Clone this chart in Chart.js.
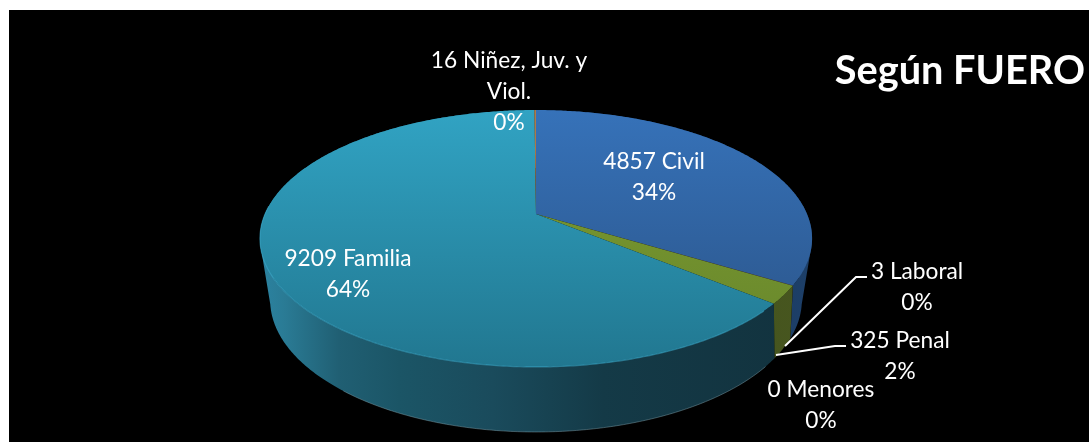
<!DOCTYPE html>
<html>
<head>
<meta charset="utf-8">
<title>Según FUERO</title>
<script src="https://cdn.jsdelivr.net/npm/chart.js@4"></script>
<style>
  html, body { margin: 0; padding: 0; background: #fff; }
  canvas { display: block; }
</style>
</head>
<body>
<canvas id="fueroChart" width="1089" height="442"></canvas>
<script>
// clockwise from 12 o'clock
const categories = ['Civil', 'Laboral', 'Penal', 'Menores', 'Familia', 'Niñez, Juv. y Viol.'];
const values = [4857, 3, 325, 0, 9209, 16];
const titleText = 'Según FUERO';

const topColors = [['#3672b9', '#2a5285'], ['#7a5a9c', '#7a5a9c'], ['#7f9c30', '#66862c'], ['#888', '#888'], ['#31a3c3', '#217790'], ['#b07a45', '#a0703f']];
const wallStops = [
  [[0, '#12263f'], [1, '#1d3f68']],
  [[0, '#3a2c4c'], [1, '#3a2c4c']],
  [[0, '#3d4a1a'], [1, '#47561f']],
  [[0, '#444'], [1, '#444']],
  [[0, '#2b82a0'], [0.04, '#2a7b95'], [0.14, '#205f73'], [0.25, '#1b5566'], [0.42, '#1a4b5c'], [0.62, '#143a47'], [1, '#12323e']],
  [[0, '#5a3d22'], [1, '#5a3d22']],
];

// text lines and where they sit, in the order of the categories
const labelLines = [
  ['4857 Civil', '34%'],
  ['3 Laboral', '0%'],
  ['325 Penal', '2%'],
  ['0 Menores', '0%'],
  ['9209 Familia', '64%'],
  ['16 Niñez, Juv. y', 'Viol.', '0%'],
];
const labelAnchors = [[654, 162], [917, 272], [900, 341], [821, 390], [348, 259], [509, 61]];
const leaders = [
  [[785, 346], [856, 277], [867, 277]],
  [[776, 355], [835, 346], [846, 346]],
];

const PANEL = { x: 9, y: 10 };
const APEX_X = 536;
// the disc is seen in perspective, so its centre is not the middle of the ellipse
const TOP_DISC = { k: 271, a: 123.8, c: -0.1907, y: 214 };
const BOTTOM_DISC = { k: 256, a: 122.4, c: -0.27, y: 264.3 };
const FRONT_LEFT = 262;
const FRONT_RIGHT = 812;

function project(disc, angle) {
  const den = 1 + disc.c * Math.sin(angle);
  return {
    x: APEX_X + disc.k * Math.cos(angle) / den,
    y: disc.y + disc.a * Math.sin(angle) / den,
  };
}

function arcSteps(start, end) {
  const steps = Math.max(2, Math.ceil((end - start) / 0.01));
  const out = [];
  for (let i = 0; i <= steps; i++) out.push(start + (end - start) * i / steps);
  return out;
}

function wallGradient(ctx, index) {
  const g = ctx.createLinearGradient(FRONT_LEFT, 0, FRONT_RIGHT, 0);
  wallStops[index].forEach(([pos, color]) => g.addColorStop(pos, color));
  return g;
}

function signedArea(pts) {
  let sum = 0;
  pts.forEach((p, i) => {
    const q = pts[(i + 1) % pts.length];
    sum += p.x * q.y - q.x * p.y;
  });
  return sum;
}

function drawWall(ctx, arc, index) {
  ctx.fillStyle = wallGradient(ctx, index);
  const angles = arcSteps(arc.startAngle, arc.endAngle);
  // all quads in one path, so no seams show between them
  ctx.beginPath();
  for (let i = 0; i < angles.length - 1; i++) {
    const quad = [
      project(TOP_DISC, angles[i]),
      project(TOP_DISC, angles[i + 1]),
      project(BOTTOM_DISC, angles[i + 1]),
      project(BOTTOM_DISC, angles[i]),
    ];
    // same winding everywhere or overlapping quads cancel out
    if (signedArea(quad) < 0) quad.reverse();
    quad.forEach((p, n) => (n === 0 ? ctx.moveTo(p.x, p.y) : ctx.lineTo(p.x, p.y)));
    ctx.closePath();
  }
  ctx.fill();
}

function drawFace(ctx, arc, index) {
  const g = ctx.createLinearGradient(0, 110, 0, 367);
  g.addColorStop(0, topColors[index][0]);
  g.addColorStop(1, topColors[index][1]);
  ctx.fillStyle = g;
  ctx.beginPath();
  ctx.moveTo(APEX_X, TOP_DISC.y);
  arcSteps(arc.startAngle, arc.endAngle).forEach((angle) => {
    const p = project(TOP_DISC, angle);
    ctx.lineTo(p.x, p.y);
  });
  ctx.closePath();
  ctx.fill();
}

function strokeArc(ctx, disc, start, end, color, width) {
  ctx.strokeStyle = color;
  ctx.lineWidth = width;
  ctx.beginPath();
  arcSteps(start, end).forEach((angle, i) => {
    const p = project(disc, angle);
    if (i === 0) ctx.moveTo(p.x, p.y);
    else ctx.lineTo(p.x, p.y);
  });
  ctx.stroke();
}

const pie3d = {
  id: 'pie3d',
  beforeDraw(chart) {
    const { ctx, width, height } = chart;
    ctx.save();
    ctx.fillStyle = '#000';
    ctx.fillRect(PANEL.x, PANEL.y, width - PANEL.x, height - PANEL.y);
    ctx.restore();
  },
  // the library works out each slice's angles; they are drawn here tilted instead of flat
  beforeDatasetsDraw(chart) {
    const { ctx } = chart;
    const arcs = chart.getDatasetMeta(0).data;
    ctx.save();
    const order = arcs.map((arc, i) => i).filter((i) => values[i] > 0);
    order.forEach((i) => drawWall(ctx, arcs[i], i));
    order.forEach((i) => drawFace(ctx, arcs[i], i));
    // lighter edges on the big slice, top face and foot of the wall
    const family = arcs[categories.indexOf('Familia')];
    strokeArc(ctx, TOP_DISC, Math.max(family.startAngle, 0.75), Math.PI * 1.02, 'rgba(64, 176, 210, 0.5)', 1.2);
    strokeArc(ctx, BOTTOM_DISC, Math.max(family.startAngle, 0.75), 2.2, 'rgba(130, 165, 175, 0.45)', 1);
    ctx.restore();
    return false;
  },
  afterDraw(chart) {
    const { ctx } = chart;
    ctx.save();
    ctx.strokeStyle = '#fff';
    ctx.lineWidth = 2;
    leaders.forEach((line) => {
      ctx.beginPath();
      line.forEach(([x, y], i) => (i === 0 ? ctx.moveTo(x, y) : ctx.lineTo(x, y)));
      ctx.stroke();
    });
    ctx.fillStyle = '#fff';
    ctx.font = '22.7px Lato';
    ctx.textAlign = 'center';
    ctx.textBaseline = 'middle';
    labelLines.forEach((lines, i) => {
      const [x, y] = labelAnchors[i];
      lines.forEach((line, n) => ctx.fillText(line, x, y + n * 31));
    });
    ctx.restore();
  },
};

new Chart(document.getElementById('fueroChart'), {
  type: 'pie',
  data: {
    labels: categories,
    datasets: [{ data: values, borderWidth: 0 }],
  },
  options: {
    responsive: false,
    animation: false,
    layout: { padding: { right: 4 } },
    plugins: {
      legend: { display: false },
      tooltip: { enabled: false },
      title: {
        display: true,
        text: titleText,
        align: 'end',
        color: '#fff',
        font: { family: 'Lato', size: 39.7, weight: 'bold' },
        padding: { top: 47, bottom: 0 },
      },
    },
  },
  plugins: [pie3d],
});
</script>
</body>
</html>
